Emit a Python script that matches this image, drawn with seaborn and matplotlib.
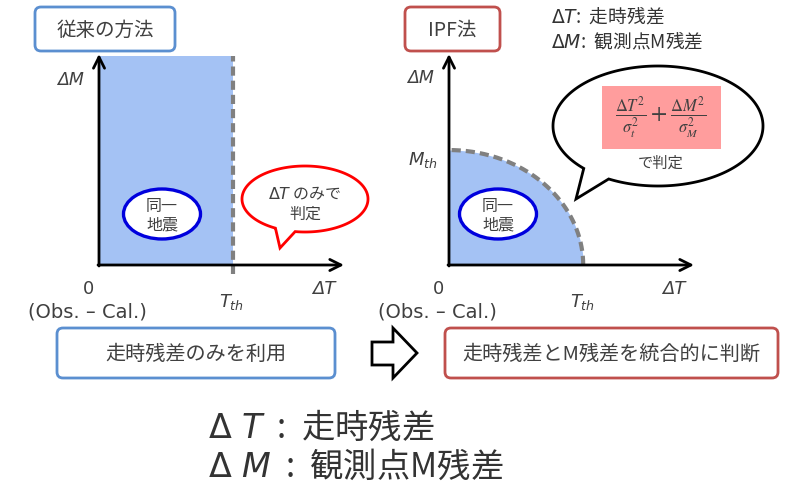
import numpy as np
import matplotlib
matplotlib.use("Agg")
import matplotlib.pyplot as plt
import seaborn as sns
from matplotlib.patches import FancyBboxPatch, Ellipse, Polygon, Rectangle

# ---- data ----
panel_titles = ["従来の方法", "IPF法"]
panel_colors = ["#5b8fd0", "#c0504d"]
t_th = 0.55          # travel-time threshold (fraction of axis length)
m_th = 0.55          # magnitude threshold (fraction of axis length)
same_event = "同一\n地震"
bubble_left = "$\\Delta T$ のみで\n判定"
bubble_right = "で判定"
formula = r"$\frac{\Delta T^2}{\sigma_t^2}+\frac{\Delta M^2}{\sigma_M^2}$"
notes = ["走時残差のみを利用", "走時残差とM残差を統合的に判断"]
terms = [r"$\mathit{\Delta T}$", r"$\mathit{\Delta M}$"]
big_terms = [r"$\mathit{\Delta}\ \mathit{T}$", r"$\mathit{\Delta}\ \mathit{M}$"]
term_desc = ["走時残差", "観測点M残差"]

sns.set_theme(style="white")
plt.rcParams["font.family"] = ["Noto Sans CJK JP", "DejaVu Sans"]
plt.rcParams["mathtext.fontset"] = "dejavusans"

fill_c = "#a4c2f4"
dash_c = "#808080"
txt_c = "#404040"

fig = plt.figure(figsize=(7.85, 4.89), dpi=100)
W, H = 785, 489


def panel_axes(x0, y0, x1, y1):
    a = fig.add_axes([x0 / W, 1 - y1 / H, (x1 - x0) / W, (y1 - y0) / H])
    a.set_xlim(0, 1)
    a.set_ylim(0, 1)
    a.set_facecolor("none")
    a.axis("off")
    return a


# left panel: threshold on dT only
axl = panel_axes(99, 57, 343, 266)
axl.fill_between([0, t_th], 0, 1, color=fill_c, lw=0)
sns.lineplot(x=[t_th, t_th], y=[-0.045, 1], ax=axl, color=dash_c, lw=3,
             dashes=False, sort=False, estimator=None)
axl.lines[-1].set_dashes((2.2, 1.2))
axl.lines[-1].set_clip_on(False)

# right panel: elliptical threshold
axr = panel_axes(449, 57, 693, 266)
theta = np.linspace(0, np.pi / 2, 200)
ex, ey = t_th * np.cos(theta), m_th * np.sin(theta)
axr.fill_between(ex, 0, ey, color=fill_c, lw=0)
sns.lineplot(x=ex, y=ey, ax=axr, color=dash_c, lw=3, sort=False, estimator=None)
axr.lines[-1].set_dashes((2.2, 1.2))

# overlay in pixel coordinates
ov = fig.add_axes([0, 0, 1, 1], zorder=5)
ov.set_facecolor("none")
ov.set_xlim(0, W)
ov.set_ylim(H, 0)
ov.axis("off")


def rbox(x0, y0, x1, y1, ec, text, fs):
    ov.add_patch(FancyBboxPatch((x0, y0), x1 - x0, y1 - y0,
                                boxstyle="round,pad=0,rounding_size=6",
                                fc="white", ec=ec, lw=2))
    ov.text((x0 + x1) / 2, (y0 + y1) / 2, text, ha="center", va="center",
            fontsize=fs, color=txt_c)


def bubble(cx, cy, rx, ry, g1, g2, tip, ec):
    t = np.radians(np.linspace(g2, g1 + 360, 300))
    pts = np.column_stack([cx + rx * np.cos(t), cy + ry * np.sin(t)])
    pts = np.vstack([pts, tip])
    ov.add_patch(Polygon(pts, closed=True, fc="white", ec=ec, lw=2))


def axes_arrows(x0, y0, ytop, xright):
    ov.annotate("", xy=(x0, ytop), xytext=(x0, y0 + 1),
                arrowprops=dict(arrowstyle="->", lw=2, color="black",
                                mutation_scale=20, shrinkA=0, shrinkB=0))
    ov.annotate("", xy=(xright, y0), xytext=(x0 - 1, y0),
                arrowprops=dict(arrowstyle="->", lw=2, color="black",
                                mutation_scale=20, shrinkA=0, shrinkB=0))


# titles
rbox(35, 8, 175, 52, panel_colors[0], panel_titles[0], 14)
rbox(405, 8, 500, 52, panel_colors[1], panel_titles[1], 14)

# axes arrows
axes_arrows(99, 266, 55, 344)
axes_arrows(449, 266, 55, 694)

# axis labels
for x0, xr, tx in [(99, 344, 232), (449, 694, 583)]:
    ov.text(x0 - 28, 80 if x0 == 99 else 78, "ΔM", fontsize=12.5, style="italic",
            family="DejaVu Sans", color=txt_c, ha="center", va="center")
    ov.text(x0 - 11, 289, "0", fontsize=13, family="DejaVu Sans",
            color=txt_c, ha="center", va="center")
    ov.text(x0 - 12, 312, "(Obs. – Cal.)", fontsize=14, family="DejaVu Sans",
            color=txt_c, ha="center", va="center")
    ov.text(xr - 20, 289, "ΔT", fontsize=13, style="italic",
            family="DejaVu Sans", color=txt_c, ha="center", va="center")
    ov.text(tx, 302, r"$T_{th}$", fontsize=13, color=txt_c,
            ha="center", va="center")
ov.text(423, 160, r"$M_{th}$", fontsize=13, color=txt_c, ha="center", va="center")

# same-event ellipses
for cx in [162, 498]:
    ov.add_patch(Ellipse((cx, 215), 77, 50, fc="white", ec="#0000dd", lw=2.4))
    ov.text(cx, 216, same_event, fontsize=11.5, color=txt_c, ha="center",
            va="center", linespacing=1.1)

# speech bubbles
bubble(305, 200, 63, 33, 99, 118, (280, 249), "#ff0000")
ov.text(305, 204, bubble_left, fontsize=11.5, color=txt_c, ha="center",
        va="center", linespacing=1.2)

bubble(658, 127, 105, 60, 118, 135, (576, 200), "black")
ov.add_patch(Rectangle((602, 87), 119, 63, fc="#ff9d9d", ec="none"))
ov.text(661, 118, formula, fontsize=17, color=txt_c, ha="center",
        va="center", math_fontfamily="stix")
ov.text(661, 163, bubble_right, fontsize=11, color=txt_c, ha="center",
        va="center")

# top-right legend
ov.text(551, 17, terms[0] + ":  " + term_desc[0], fontsize=13.5, color="#333333",
        ha="left", va="center")
ov.text(551, 42, terms[1] + ":  " + term_desc[1], fontsize=13.5, color="#333333",
        ha="left", va="center")

# bottom boxes and hollow arrow
rbox(57, 329, 335, 379, panel_colors[0], notes[0], 14.5)
rbox(445, 329, 778, 379, panel_colors[1], notes[1], 14.5)
ov.add_patch(Polygon([(372, 343), (393, 343), (393, 329), (417, 354),
                      (393, 379), (393, 366), (372, 366)], closed=True,
                     fc="white", ec="black", lw=2, joinstyle="miter"))

# bottom legend
ov.text(208, 428, big_terms[0] + "  :  " + term_desc[0], fontsize=24,
        color="#333333", ha="left", va="center")
ov.text(208, 467, big_terms[1] + "  :  " + term_desc[1], fontsize=24,
        color="#333333", ha="left", va="center")

fig.savefig("out.png", dpi=100, facecolor="white")
